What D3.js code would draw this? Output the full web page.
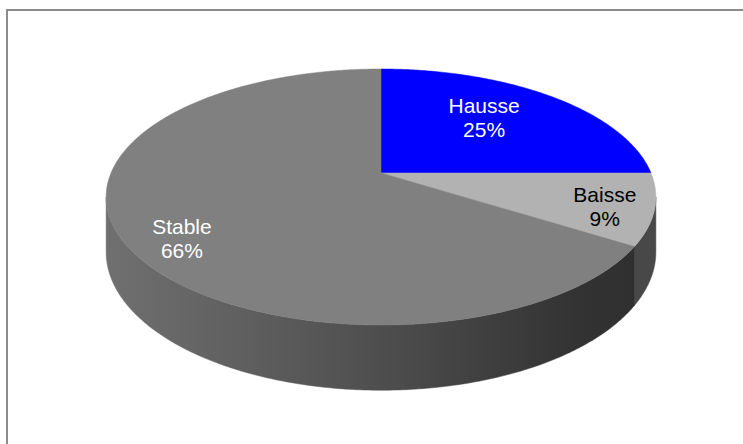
<!DOCTYPE html>
<html>
<head>
<meta charset="utf-8">
<script src="https://cdn.jsdelivr.net/npm/d3@7"></script>
<style>
  html, body { margin: 0; padding: 0; background: #ffffff; }
  svg { display: block; }
</style>
</head>
<body>
<svg id="chart" width="743" height="444"></svg>
<script>
// ---- data ----
const categories = ["Hausse", "Baisse", "Stable"];
const values = [25, 9, 66];
const percentLabels = ["25%", "9%", "66%"];

// ---- styles / layout ----
const topColors = ["#0000ff", "#b2b2b2", "#808080"];
const labelColors = ["#ffffff", "#000000", "#ffffff"];
const labelRadius = [0.6, 0.84, 0.84];
const labelNudge = [[-3, -6.5], [-4, 4], [16, 11.5]];

const W = 743, H = 444;
const cx = 381, cy = 173;     // projected pie centre
const rx = 270;               // horizontal radius
const b = 123.5;              // vertical scale
const k = 0.1875;             // perspective factor
const depth = 53;             // thickness

const svg = d3.select("#chart");

// frame
svg.append("rect")
  .attr("x", 7).attr("y", 10)
  .attr("width", 800).attr("height", 500)
  .attr("fill", "none")
  .attr("stroke", "#8c8c8c")
  .attr("stroke-width", 2);

// projection of a point on the unit disc (angle a clockwise from top, radius r)
function proj(a, r, h) {
  const u = r * Math.sin(a);
  const v = -r * Math.cos(a);
  const w = 1 - k * v;
  return [cx + rx * u / w, cy + (b * v + (h || 0)) / w];
}

const pie = d3.pie().sort(null).value(d => d);
const arcs = pie(values);

const line = d3.line();
function arcPoints(a0, a1, r, h) {
  const n = Math.max(2, Math.ceil(Math.abs(a1 - a0) / 0.01));
  return d3.range(n + 1).map(i => proj(a0 + (a1 - a0) * i / n, r, h));
}

// side gradients
const defs = svg.append("defs");
const g1 = defs.append("linearGradient")
  .attr("id", "sideStable")
  .attr("gradientUnits", "userSpaceOnUse")
  .attr("x1", cx - rx * 1.02).attr("x2", cx + rx * 1.02)
  .attr("y1", 0).attr("y2", 0);
[[0, "#707070"], [0.5, "#4e4e4e"], [0.85, "#333333"], [1, "#2e2e2e"]]
  .forEach(([o, c]) => g1.append("stop").attr("offset", o).attr("stop-color", c));

const sideColors = ["#1a1a80", "#484848", "url(#sideStable)"];

// visible range of the outer wall
const aVis0 = Math.PI - Math.acos(k);
const aVis1 = Math.PI + Math.acos(k);

const walls = svg.append("g");
arcs.forEach((d, i) => {
  const a0 = Math.max(d.startAngle, aVis0);
  const a1 = Math.min(d.endAngle, aVis1);
  if (a1 <= a0) return;
  const pts = arcPoints(a0, a1, 1, 0).concat(arcPoints(a1, a0, 1, depth));
  walls.append("path")
    .attr("d", line(pts) + "Z")
    .attr("fill", sideColors[i])
    .attr("stroke", sideColors[i])
    .attr("stroke-width", 0.5);
});

// top faces
const tops = svg.append("g");
arcs.forEach((d, i) => {
  const pts = [proj(0, 0, 0)].concat(arcPoints(d.startAngle, d.endAngle, 1, 0));
  tops.append("path")
    .attr("d", line(pts) + "Z")
    .attr("fill", topColors[i])
    .attr("stroke", topColors[i])
    .attr("stroke-width", 0.5);
});

// labels
const labels = svg.append("g")
  .attr("font-family", "'Liberation Sans', Arial, sans-serif")
  .attr("font-size", 21)
  .attr("text-anchor", "middle");
arcs.forEach((d, i) => {
  const mid = (d.startAngle + d.endAngle) / 2;
  const p = proj(mid, labelRadius[i], 0);
  const x = p[0] + labelNudge[i][0];
  const y = p[1] + labelNudge[i][1];
  const t = labels.append("text").attr("fill", labelColors[i]);
  t.append("tspan").attr("x", x).attr("y", y - 5).text(categories[i]);
  t.append("tspan").attr("x", x).attr("y", y + 19).text(percentLabels[i]);
});
</script>
</body>
</html>
